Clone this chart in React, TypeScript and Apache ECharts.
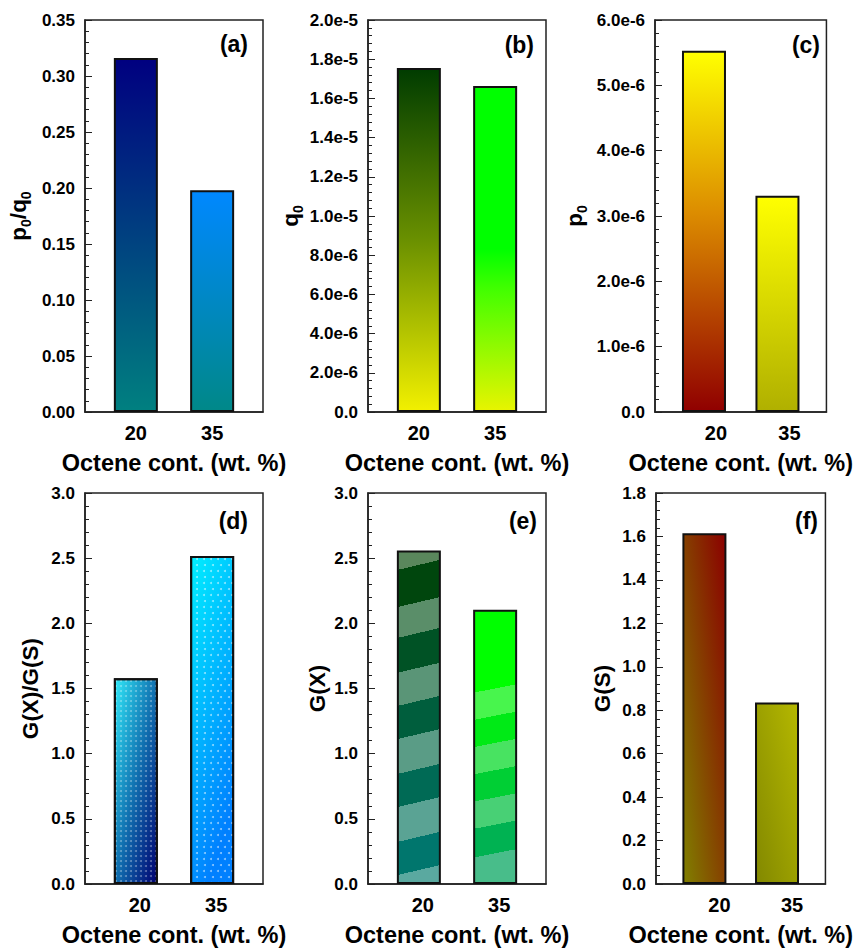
import React, { useEffect, useRef } from 'react';
import * as echarts from 'echarts';

// ---------- data ----------
const octeneContent = [20, 35];
const p0OverQ0 = [0.316, 0.198];
const q0Values = [1.755e-5, 1.663e-5];
const p0Values = [5.53e-6, 3.31e-6];
const gxOverGs = [1.579, 2.516];
const gxValues = [2.558, 2.104];
const gsValues = [1.615, 0.836];
const yMaxes = [0.35, 2e-5, 6e-6, 3.0, 3.0, 1.8];
const yIntervals = [0.05, 2e-6, 1e-6, 0.5, 0.5, 0.2];
const panelTags = ['(a)', '(b)', '(c)', '(d)', '(e)', '(f)'];
const xAxisTitle = 'Octene cont. (wt. %)';

const FONT = '"Liberation Sans", Arial, Helvetica, sans-serif';

type RGB = [number, number, number];
const hex = (c: RGB) =>
  '#' + c.map((v) => Math.round(Math.max(0, Math.min(255, v))).toString(16).padStart(2, '0')).join('');
const mix = (a: RGB, b: RGB, t: number): RGB => [
  a[0] + (b[0] - a[0]) * t,
  a[1] + (b[1] - a[1]) * t,
  a[2] + (b[2] - a[2]) * t,
];

const lg = (x: number, y: number, x2: number, y2: number, stops: [number, string][]) =>
  new echarts.graphic.LinearGradient(
    x,
    y,
    x2,
    y2,
    stops.map(([offset, color]) => ({ offset, color }))
  );

// banded fill (plain / hatched-looking bands) for panel (e)
function bandGradient(bounds: number[], firstHatched: boolean, top: RGB, bottom: RGB, startT: number, tint: number) {
  const stops: [number, string][] = [];
  for (let i = 0; i < bounds.length - 1; i++) {
    const a = bounds[i];
    const b = bounds[i + 1];
    const mid = (a + b) / 2;
    const t = mid < startT ? 0 : (mid - startT) / (1 - startT);
    let c = mix(top, bottom, t);
    const hatched = (i % 2 === 0) === firstHatched;
    if (hatched) c = mix(c, [225, 240, 225], tint);
    stops.push([a, hex(c)], [b, hex(c)]);
  }
  return new echarts.graphic.LinearGradient(
    0,
    0,
    0.03,
    1,
    stops.map(([offset, color]) => ({ offset, color }))
  );
}

const barFills: any[][] = [
  [
    lg(0, 0, 0, 1, [[0, '#000080'], [1, '#008080']]),
    lg(0, 0, 0, 1, [[0, '#0088ff'], [1, '#008888']]),
  ],
  [
    lg(0, 0, 0, 1, [[0, '#003c00'], [0.5, '#6a9000'], [1, '#f2f000']]),
    lg(0, 0, 0, 1, [[0, '#00ff00'], [0.5, '#00ff00'], [0.62, '#40ff00'], [1, '#e8f400']]),
  ],
  [
    lg(0, 0, 0, 1, [[0, '#ffff00'], [0.45, '#dc8c00'], [1, '#900000']]),
    lg(0, 0, 0, 1, [[0, '#ffff00'], [1, '#b0b000']]),
  ],
  [
    lg(0, 0, 1, 1, [[0, '#30e8f8'], [0.5, '#1070b0'], [1, '#000070']]),
    lg(0, 0, 0.4, 1, [[0, '#00f0ff'], [1, '#0080ff']]),
  ],
  [
    bandGradient(
      [0, 0.055, 0.167, 0.26, 0.365, 0.465, 0.565, 0.67, 0.77, 0.875, 0.975, 1],
      true,
      [0, 64, 0],
      [0, 122, 118],
      0,
      0.4
    ),
    bandGradient(
      [0, 0.3, 0.4, 0.5, 0.6, 0.7, 0.8, 0.905, 1],
      false,
      [0, 255, 0],
      [0, 158, 104],
      0.3,
      0.32
    ),
  ],
  [
    lg(1, 0, 0, 1, [[0, '#8b0000'], [1, '#808000']]),
    lg(1, 0, 0, 1, [[0, '#b5b800'], [1, '#828800']]),
  ],
];

const barDecals: any[][] = [
  [null, null],
  [null, null],
  [null, null],
  [
    {
      symbol: 'circle',
      symbolSize: 1,
      color: 'rgba(255,255,255,0.35)',
      dashArrayX: [1.5, 2.5],
      dashArrayY: [1.5, 2.5],
    },
    {
      symbol: 'circle',
      symbolSize: 1,
      color: 'rgba(255,255,255,0.55)',
      dashArrayX: [[2, 5], [0, 3.5, 2, 1.5]],
      dashArrayY: [2, 4],
    },
  ],
  [
    null,
    null,
  ],
  [null, null],
];

const panelValues = [p0OverQ0, q0Values, p0Values, gxOverGs, gxValues, gsValues];

const yFormatters = [
  (v: number) => v.toFixed(2),
  (v: number) => (v === 0 ? '0.0' : v.toExponential(1)),
  (v: number) => (v === 0 ? '0.0' : v.toExponential(1)),
  (v: number) => v.toFixed(1),
  (v: number) => v.toFixed(1),
  (v: number) => v.toFixed(1),
];

const yNames = [
  '{m|p}{s|0}{m|/q}{s|0}',
  '{m|q}{s|0}',
  '{m|p}{s|0}',
  '{m|G(X)/G(S)}',
  '{m|G(X)}',
  '{m|G(S)}',
];

// layout (pixels)
const gridLefts = [85, 368, 655, 85, 368, 656];
const gridTops = [20, 20, 20, 493, 493, 493];
const GRID_W = 178;
const GRID_H = 392;
const yNameGaps = [52, 63, 66, 40, 36, 39];
const xLabelShift = [0, 0, 12, 4, 4, 15];
const tagPos = [
  [248, 44],
  [534, 45],
  [820, 45],
  [248, 521],
  [537, 521],
  [818, 521],
];

function buildOption() {
  const grid: any[] = [];
  const xAxis: any[] = [];
  const yAxis: any[] = [];
  const series: any[] = [];
  const graphic: any[] = [];

  for (let i = 0; i < 6; i++) {
    grid.push({
      left: gridLefts[i],
      top: gridTops[i],
      width: GRID_W,
      height: GRID_H,
      show: true,
      borderColor: '#222',
      borderWidth: 1.5,
      backgroundColor: 'transparent',
      containLabel: false,
    });
    xAxis.push({
      type: 'value',
      gridIndex: i,
      min: 10,
      max: 45,
      interval: 5,
      axisLine: { show: true, onZero: false, lineStyle: { color: '#222', width: 1.5 } },
      axisTick: { show: false },
      splitLine: { show: false },
      axisLabel: {
        show: true,
        margin: 11,
        fontSize: 20,
        fontWeight: 'bold',
        fontFamily: FONT,
        color: '#000',
        padding: [0, 0, 0, xLabelShift[i] * 2],
        formatter: (v: number) =>
          octeneContent.includes(Math.round(v)) && Math.abs(v - Math.round(v)) < 1e-6 ? String(Math.round(v)) : '',
      },
      name: xAxisTitle,
      nameLocation: 'middle',
      nameGap: 39,
      nameTextStyle: { fontSize: 23.5, fontWeight: 'bold', fontFamily: FONT, color: '#000' },
    });
    yAxis.push({
      type: 'value',
      gridIndex: i,
      min: 0,
      max: yMaxes[i],
      interval: yIntervals[i],
      axisLine: { show: true, lineStyle: { color: '#222', width: 1.5 } },
      axisTick: { show: true, inside: true, length: 7, lineStyle: { color: '#222', width: 1 } },
      minorTick: { show: true, splitNumber: 5, length: 4, lineStyle: { color: '#222', width: 1 } },
      splitLine: { show: false },
      minorSplitLine: { show: false },
      axisLabel: {
        margin: 10,
        fontSize: 17,
        fontWeight: 'bold',
        fontFamily: FONT,
        color: '#000',
        formatter: yFormatters[i],
      },
      name: yNames[i],
      nameLocation: 'middle',
      nameRotate: 90,
      nameGap: yNameGaps[i],
      nameTextStyle: {
        color: '#000',
        rich: {
          m: {
            fontSize: 22.5,
            fontWeight: 'bold',
            fontFamily: FONT,
            color: '#000',
            lineHeight: 30,
            verticalAlign: 'middle',
          },
          s: {
            fontSize: 14,
            fontWeight: 'bold',
            fontFamily: FONT,
            color: '#000',
            lineHeight: 14,
            verticalAlign: 'bottom',
          },
        },
      },
    });
    const vals = panelValues[i];
    series.push({
      type: 'bar',
      xAxisIndex: i,
      yAxisIndex: i,
      barWidth: 44,
      data: octeneContent.map((c, k) => {
        const itemStyle: any = {
          color: barFills[i][k],
          borderColor: '#111',
          borderWidth: 2,
        };
        if (barDecals[i][k]) itemStyle.decal = barDecals[i][k];
        return { value: [c, vals[k]], itemStyle };
      }),
      silent: true,
    });
    graphic.push({
      type: 'text',
      x: tagPos[i][0],
      y: tagPos[i][1],
      z: 100,
      style: {
        text: panelTags[i],
        fontSize: 23,
        fontWeight: 'bold',
        fontFamily: FONT,
        fill: '#000',
        align: 'right',
        verticalAlign: 'middle',
        textAlign: 'right',
        textVerticalAlign: 'middle',
      },
    });
  }

  return {
    animation: false,
    backgroundColor: '#ffffff',
    grid,
    xAxis,
    yAxis,
    series,
    graphic,
  };
}

export default function App() {
  const ref = useRef<HTMLDivElement>(null);
  useEffect(() => {
    if (!ref.current) return;
    const chart = echarts.init(ref.current, null, { renderer: 'svg' });
    chart.setOption(buildOption() as any);
    return () => chart.dispose();
  }, []);
  return (
    <div
      ref={ref}
      style={{ position: 'fixed', left: 0, top: 0, width: 855, height: 948, background: '#fff' }}
    />
  );
}
